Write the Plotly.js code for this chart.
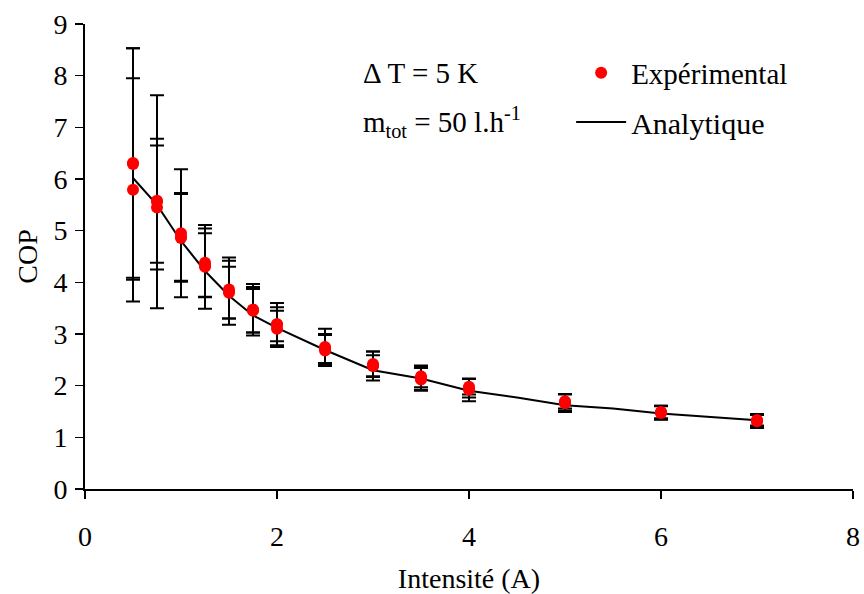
<!DOCTYPE html>
<html>
<head>
<meta charset="utf-8">
<script src="https://cdn.plot.ly/plotly-3.0.1.min.js"></script>
<style>html,body{margin:0;padding:0;background:#fff;}#chart{width:864px;height:594px;}</style>
</head>
<body>
<div id="chart"></div>
<script>
// Intensity (A)
const intensite = [0.5, 0.75, 1, 1.25, 1.5, 1.75, 2, 2.5, 3, 3.5, 4, 5, 6, 7];

// Experimental series 1
const cop1 = [6.31, 5.58, 4.95, 4.30, 3.83, 3.47, 3.19, 2.75, 2.42, 2.18, 1.95, 1.68, 1.48, 1.33];
const err1 = [2.22, 1.20, 1.24, 0.81, 0.65, 0.50, 0.41, 0.35, 0.24, 0.21, 0.18, 0.16, 0.13, 0.12];
// Experimental series 2
const cop2 = [5.79, 5.45, 4.88, 4.38, 3.86, 3.47, 3.19, 2.72, 2.38, 2.14, 1.92, 1.66, 1.49, 1.31];
const err2 = [2.16, 1.20, 0.85, 0.66, 0.56, 0.44, 0.33, 0.28, 0.28, 0.22, 0.22, 0.17, 0.12, 0.13];
// Experimental series 3
const cop3 = [6.29, 5.56, 4.86, 4.33, 3.80, 3.45, 3.10, 2.68, 2.38, 2.12, 1.98, 1.70, 1.47, 1.33];
const err3 = [2.24, 2.06, 0.85, 0.62, 0.50, 0.42, 0.35, 0.30, 0.21, 0.22, 0.15, 0.14, 0.13, 0.10];

// Analytical model
const intensiteAna = [0.5, 0.75, 1, 1.25, 1.5, 1.75, 2, 2.5, 3, 3.5, 4, 4.5, 5, 5.5, 6, 6.5, 7];
const copAna = [6.02, 5.50, 4.80, 4.22, 3.74, 3.36, 3.12, 2.69, 2.30, 2.14, 1.90, 1.77, 1.62, 1.56, 1.46, 1.39, 1.33];

const FONT = "Liberation Serif, Times New Roman, serif";
const expSeries = [[cop1, err1], [cop2, err2], [cop3, err3]];

const traces = [];
traces.push({
  x: intensiteAna, y: copAna, type: 'scatter', mode: 'lines',
  name: 'Analytique', line: {color: '#000', width: 2},
  legend: 'legend2', showlegend: true
});
// error bars first (so that all dots sit on top)
expSeries.forEach(([y, e]) => {
  traces.push({
    x: intensite, y: y, type: 'scatter', mode: 'markers',
    marker: {size: 1, opacity: 0, color: 'red'},
    error_y: {type: 'data', array: e, visible: true, color: '#000', thickness: 2, width: 7},
    showlegend: false, hoverinfo: 'skip'
  });
});
expSeries.forEach(([y, e], i) => {
  traces.push({
    x: intensite, y: y, type: 'scatter', mode: 'markers',
    name: 'Expérimental',
    marker: {size: 12, color: '#ff0000', line: {width: 0}},
    showlegend: i === 0, legend: 'legend'
  });
});

const layout = {
  width: 864, height: 594,
  margin: {l: 85, r: 11, t: 24, b: 105},
  paper_bgcolor: '#fff', plot_bgcolor: '#fff',
  font: {family: FONT, color: '#000', size: 27},
  showlegend: true,
  xaxis: {
    range: [0, 8], dtick: 2, tick0: 0,
    showgrid: false, zeroline: false,
    showline: true, linecolor: '#000', linewidth: 2,
    ticks: 'outside', ticklen: 8, tickcolor: '#000', tickwidth: 1.5,
    ticklabelstandoff: 13,
    tickfont: {family: FONT, size: 28, color: '#000'},
    title: {text: 'Intensité (A)', font: {family: FONT, size: 28, color: '#000'}, standoff: 22}
  },
  yaxis: {
    range: [0, 9], dtick: 1, tick0: 0,
    showgrid: false, zeroline: false,
    showline: true, linecolor: '#000', linewidth: 2,
    ticks: 'outside', ticklen: 8, tickcolor: '#000', tickwidth: 1.5,
    ticklabelstandoff: 2,
    tickfont: {family: FONT, size: 28, color: '#000'},
    title: {text: 'COP', font: {family: FONT, size: 28, color: '#000'}, standoff: 8}
  },
  legend: {
    x: 0.633, y: 0.8946, xanchor: 'left', yanchor: 'middle',
    bgcolor: 'rgba(0,0,0,0)', borderwidth: 0,
    font: {family: FONT, size: 29, color: '#000'},
    itemwidth: 50
  },
  legend2: {
    x: 0.633, y: 0.789, xanchor: 'left', yanchor: 'middle',
    bgcolor: 'rgba(0,0,0,0)', borderwidth: 0,
    font: {family: FONT, size: 30, color: '#000'},
    itemwidth: 50
  },
  annotations: [
    {xref: 'paper', yref: 'paper', x: 0.36, y: 0.8946, xanchor: 'left', yanchor: 'middle',
     text: 'Δ\u2009T = 5 K', showarrow: false, font: {family: FONT, size: 29, color: '#000'}},
    {xref: 'paper', yref: 'paper', x: 0.36, y: 0.789, xanchor: 'left', yanchor: 'middle',
     text: 'm<sub>tot</sub> = 50 l.h<sup>-1</sup>', showarrow: false, font: {family: FONT, size: 29, color: '#000'}}
  ]
};

Plotly.newPlot('chart', traces, layout, {displayModeBar: false, staticPlot: true});
</script>
</body>
</html>
